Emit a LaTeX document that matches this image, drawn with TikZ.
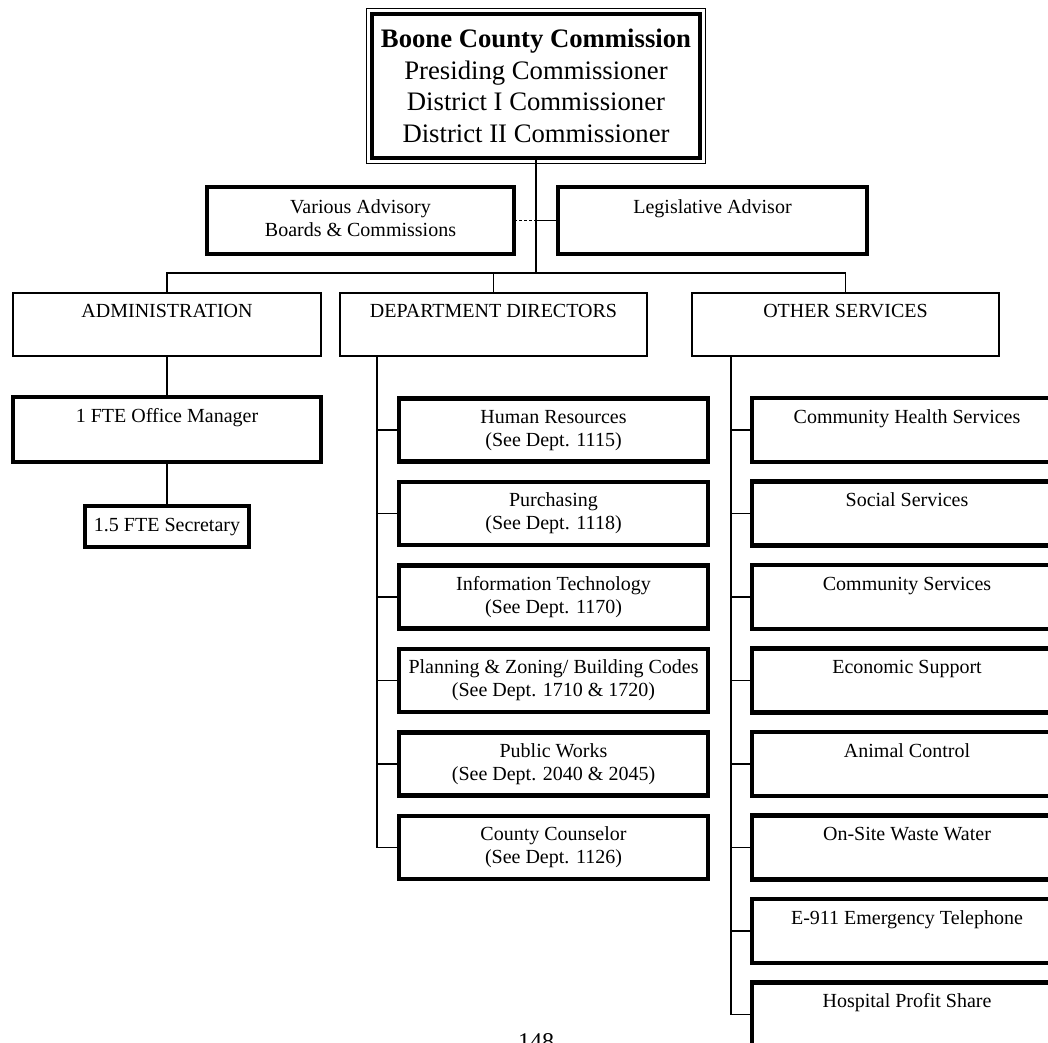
\documentclass[tikz,border=0pt]{standalone}
\usepackage{fontspec}
\setmainfont{Liberation Serif}
\usetikzlibrary{calc}
\tikzset{
  x=1pt,y=-1pt,
  conn/.style={line width=1.2pt},
  thinbox/.style={draw, line width=1.2pt, inner sep=0pt, outer sep=0pt, align=center,
    minimum height=63pt, font=\fontsize{20}{23}\selectfont},
  thickbox/.style={draw, line width=4.5pt, inner sep=0pt, outer sep=0pt, align=center,
    font=\fontsize{20}{23}\selectfont},
  deptbox/.style={thickbox, minimum width=309pt, minimum height=63pt},
  othbox/.style={thickbox, minimum width=310pt, minimum height=64pt},
}
\newcommand{\twol}[2]{#1\strut\\#2\strut}
\begin{document}
\begin{tikzpicture}
\useasboundingbox (0,0) rectangle (1048,1042);
\fill[white] (0,0) rectangle (1048,1042);

% top
\node[thickbox, minimum width=328pt, minimum height=144pt,
      font=\fontsize{26.7}{31.7}\selectfont] (top) at (536,86)
  {\textbf{Boone County Commission}\\Presiding Commissioner\\District I Commissioner\\District II Commissioner};
\draw[line width=1pt] ([shift={(-5.5,-5.5)}]top.north west) rectangle ([shift={(5.5,5.5)}]top.south east);

% advisory
\node[thickbox, minimum width=307pt, minimum height=67pt] (advl) at (360.5,220.5)
  {\twol{Various Advisory}{Boards \& Commissions}};
\node[thickbox, minimum width=309pt, minimum height=67pt] (advr) at (712.5,220.5)
  {\twol{Legislative Advisor}{}};

% level 2
\node[thinbox, minimum width=308pt] (admin) at (167,324.5) {\twol{ADMINISTRATION}{}};
\node[thinbox, minimum width=307pt] (dept) at (493.5,324.5) {\twol{DEPARTMENT DIRECTORS}{}};
\node[thinbox, minimum width=307pt] (other) at (845.5,324.5) {\twol{OTHER SERVICES}{}};

% admin
\node[thickbox, minimum width=308pt, minimum height=65pt] (om) at (167,429.5) {\twol{1 FTE Office Manager}{}};
\node[thickbox, minimum width=164pt, minimum height=41pt] (sec) at (167,526.5) {1.5 FTE Secretary\strut};

% departments
\node[deptbox] (hr)  at (553.5,430)   {\twol{Human Resources}{(See Dept. 1115)}};
\node[deptbox] (pur) at (553.5,513.5) {\twol{Purchasing}{(See Dept. 1118)}};
\node[deptbox] (it)  at (553.5,597)   {\twol{Information Technology}{(See Dept. 1170)}};
\node[deptbox] (pz)  at (553.5,680.5) {\twol{Planning \& Zoning/ Building Codes}{(See Dept. 1710 \& 1720)}};
\node[deptbox] (pw)  at (553.5,764)   {\twol{Public Works}{(See Dept. 2040 \& 2045)}};
\node[deptbox] (cc)  at (553.5,847.5) {\twol{County Counselor}{(See Dept. 1126)}};

% other services
\node[othbox] (chs) at (907,430)    {\twol{Community Health Services}{}};
\node[othbox] (ss)  at (907,513.5)  {\twol{Social Services}{}};
\node[othbox] (cs)  at (907,597)    {\twol{Community Services}{}};
\node[othbox] (es)  at (907,680.5)  {\twol{Economic Support}{}};
\node[othbox] (ac)  at (907,764)    {\twol{Animal Control}{}};
\node[othbox] (ow)  at (907,847.5)  {\twol{On-Site Waste Water}{}};
\node[othbox] (e911) at (907,931)   {\twol{E-911 Emergency Telephone}{}};
\node[othbox] (hps) at (907,1014.5) {\twol{Hospital Profit Share}{}};

% page number
\node[font=\fontsize{24}{28}\selectfont, anchor=base, inner sep=0pt] (pg) at (536,1049) {148};

% connectors
\coordinate (bus) at (536,273);
\coordinate (dtop) at (377,356);
\coordinate (otop) at (731,356);
\draw[conn] (top.south) -- (bus);
\draw[conn, dash pattern=on 3pt off 2pt] (advl.east) -- (advl.east -| top.south);
\draw[conn] (advr.west) -- (advr.west -| top.south);
\draw[conn] (admin.north) |- (bus) -| (other.north);
\draw[conn] (dept.north) -- (dept.north |- bus);
\draw[conn] (admin.south) -- (om.north);
\draw[conn] (om.south) -- (sec.north);
\draw[conn] (dtop) |- (cc.west);
\foreach \n in {hr,pur,it,pz,pw} \draw[conn] (dtop |- \n.west) -- (\n.west);
\draw[conn] (otop) |- (hps.west);
\foreach \n in {chs,ss,cs,es,ac,ow,e911} \draw[conn] (otop |- \n.west) -- (\n.west);
\end{tikzpicture}
\end{document}
